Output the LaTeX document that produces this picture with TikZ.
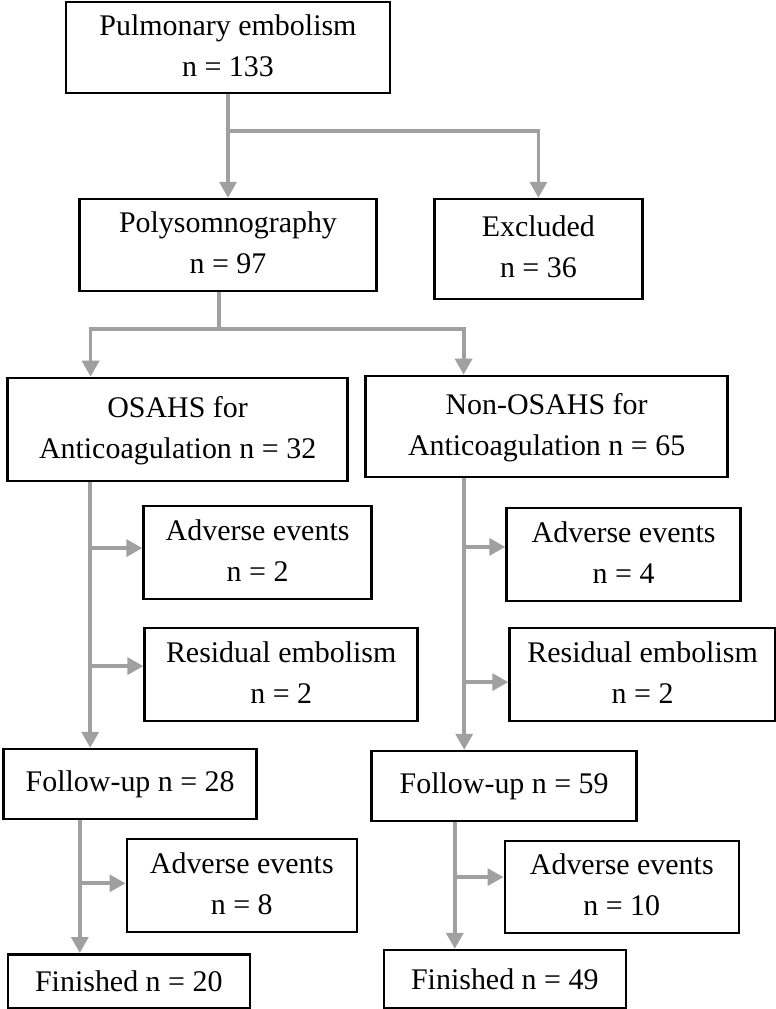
\documentclass[tikz,border=0pt]{standalone}
\usepackage{fontspec}
\setmainfont{Liberation Serif}
\usetikzlibrary{arrows.meta,positioning}
\definecolor{linegray}{RGB}{160,160,160}
\tikzstyle{box} = [rectangle, draw=black, line width=1.8pt, inner sep=0pt, text centered, font=\fontsize{21.3}{29}\selectfont]
\tikzstyle{arrow} = [-{Triangle[width=0.42cm,length=0.4cm]}, draw=linegray, line width=2.7pt]

\begin{document}
\begin{tikzpicture}[node distance=1.0cm]
\useasboundingbox (-5.7,1.1875) rectangle (13.7,-24.0375);
% Draw shapes
\node (pe) [box, minimum width=8.1cm, minimum height=2.275cm]
{\begin{tabular}{c}
Pulmonary embolism\\
n = 133\\
\end{tabular}};
\node (ps) [box, below of = pe, node distance=4.94cm, minimum width=7.425cm, minimum height=2.3cm]
{\begin{tabular}{c}
Polysomnography\\
n = 97\\
\end{tabular}};
\node (ex) [box, right of = ps, node distance=7.76cm, yshift=-0.1cm, minimum width=5.2cm, minimum height=2.5cm]
{\begin{tabular}{c}
Excluded\\
n = 36\\
\end{tabular}};
\node (os) [box, below of = ps, node distance=4.61cm, xshift=-1.26cm, minimum width=8.5cm, minimum height=2.575cm]
{\begin{tabular}{c}
OSAHS for\\
Anticoagulation n = 32\\
\end{tabular}};
\node (nos) [box, right of = os, node distance=9.225cm, yshift=0.075cm, minimum width=9.05cm, minimum height=2.525cm]
{\begin{tabular}{c}
Non-OSAHS for\\
Anticoagulation n = 65\\
\end{tabular}};
% left branch
\node (adv1) [box, below of = os, node distance=3.075cm, xshift=2cm, minimum width=5.7cm, minimum height=2.325cm]
{\begin{tabular}{c}
Adverse events\\
n = 2\\
\end{tabular}};
\node (res1) [box, below of = adv1, node distance=3.05cm, xshift=0.59cm, minimum width=6.825cm, minimum height=2.325cm]
{\begin{tabular}{c}
Residual embolism\\
n = 2\\
\end{tabular}};
\node (fu1) [box, below of = res1, node distance=2.74cm, xshift=-3.775cm, minimum width=6.325cm, minimum height=1.75cm]
{Follow-up n = 28};
\node (adv3) [box, below of = fu1, node distance=2.54cm, xshift=2.79cm, minimum width=5.75cm, minimum height=2.325cm]
{\begin{tabular}{c}
Adverse events\\
n = 8\\
\end{tabular}};
\node (fin1) [box, below of = adv3, node distance=2.39cm, xshift=-2.825cm, minimum width=6.05cm, minimum height=1.35cm]
{Finished n = 20};
% right branch
\node (adv2) [box, below of = nos, node distance=3.2cm, xshift=1.925cm, minimum width=5.85cm, minimum height=2.325cm]
{\begin{tabular}{c}
Adverse events\\
n = 4\\
\end{tabular}};
\node (res2) [box, below of = adv2, node distance=3cm, xshift=0.475cm, minimum width=6.65cm, minimum height=2.325cm]
{\begin{tabular}{c}
Residual embolism\\
n = 2\\
\end{tabular}};
\node (fu2) [box, below of = res2, node distance=2.79cm, xshift=-3.46cm, minimum width=6.625cm, minimum height=1.75cm]
{Follow-up n = 59};
\node (adv4) [box, below of = fu2, node distance=2.525cm, xshift=2.94cm, minimum width=5.85cm, minimum height=2.3cm]
{\begin{tabular}{c}
Adverse events\\
n = 10\\
\end{tabular}};
\node (fin2) [box, below of = adv4, node distance=2.3cm, xshift=-2.925cm, minimum width=6.05cm, minimum height=1.45cm]
{Finished n = 49};
% Coordinates
\coordinate (split1) at ([yshift=-0.925cm]pe.south);
\coordinate (split2) at ([xshift=-0.225cm, yshift=-0.925cm]ps.south);
\coordinate (ltop) at ([xshift=-1cm]fu1.north);
\coordinate (rtop) at ([xshift=-1cm]fu2.north);
\coordinate (lbot) at ([xshift=-1.225cm]fin1.north);
\coordinate (rbot) at ([xshift=-1.25cm]fin2.north);
\coordinate (a1in) at ([yshift=0.11cm]adv1.west);
\coordinate (r1in) at ([yshift=0.21cm]res1.west);
\coordinate (a2in) at ([yshift=0.19cm]adv2.west);
\coordinate (r2in) at ([yshift=-0.19cm]res2.west);
\coordinate (a3in) at ([yshift=0.06cm]adv3.west);
\coordinate (a4in) at ([yshift=0.25cm]adv4.west);
% Draw arrows
\draw [arrow] (pe.south) -- (pe.south |- ps.north);
\draw [arrow] (split1) -| (ex.north);
\draw [arrow, -] (split2 |- ps.south) -- (split2);
\draw [arrow] (split2) -| ([xshift=-2.175cm]os.north);
\draw [arrow] (split2) -| ([xshift=-2.075cm]nos.north);
\draw [arrow] (os.south -| ltop) -- (ltop);
\draw [arrow] (a1in -| ltop) -- (a1in);
\draw [arrow] (r1in -| ltop) -- (r1in);
\draw [arrow] (nos.south -| rtop) -- (rtop);
\draw [arrow] (a2in -| rtop) -- (a2in);
\draw [arrow] (r2in -| rtop) -- (r2in);
\draw [arrow] (fu1.south -| lbot) -- (lbot);
\draw [arrow] (a3in -| lbot) -- (a3in);
\draw [arrow] (fu2.south -| rbot) -- (rbot);
\draw [arrow] (a4in -| rbot) -- (a4in);
\end{tikzpicture}
\end{document}
